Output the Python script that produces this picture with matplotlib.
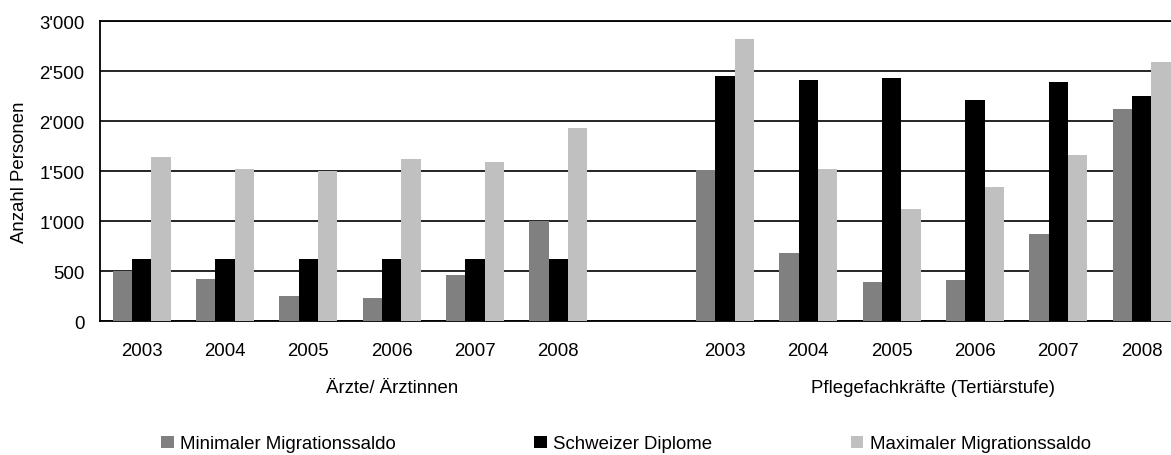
import matplotlib
matplotlib.use("Agg")
import matplotlib.pyplot as plt
from matplotlib.ticker import FuncFormatter, MultipleLocator
from matplotlib.patches import Patch

plt.rcParams['font.family'] = ['Liberation Sans', 'DejaVu Sans']
plt.rcParams['font.size'] = 13.4

# data
years = ['2003', '2004', '2005', '2006', '2007', '2008']
groups = ['Ärzte/ Ärztinnen', 'Pflegefachkräfte (Tertiärstufe)']
series = ['Minimaler Migrationssaldo', 'Schweizer Diplome', 'Maximaler Migrationssaldo']

aerzte_min = [500, 427, 250, 237, 467, 1000]
aerzte_ch = [627, 627, 627, 627, 627, 627]
aerzte_max = [1647, 1527, 1503, 1627, 1597, 1937]

pflege_min = [1510, 687, 397, 417, 877, 2127]
pflege_ch = [2457, 2417, 2437, 2217, 2397, 2257]
pflege_max = [2827, 1527, 1127, 1347, 1667, 2597]

colors = ['#808080', '#000000', '#c0c0c0']

W, H = 1171, 456
fig = plt.figure(figsize=(W / 100, H / 100), dpi=100)
# axes extends past the right edge like in the original
ax = fig.add_axes([100 / W, (H - 322.3) / H, 1083.3 / W, 300 / H])

# categories: 6 years, one empty slot, 6 years
pos_a = list(range(6))
pos_p = list(range(7, 13))
bw = 0.232
offsets = [-bw, 0, bw]

for i, (va, vp) in enumerate(zip([aerzte_min, aerzte_ch, aerzte_max],
                                 [pflege_min, pflege_ch, pflege_max])):
    ax.bar([p + offsets[i] for p in pos_a], va, width=bw, color=colors[i], zorder=3)
    ax.bar([p + offsets[i] for p in pos_p], vp, width=bw, color=colors[i], zorder=3)

ax.set_xlim(-0.5, 12.5)
ax.set_ylim(0, 3000)
ax.yaxis.set_major_locator(MultipleLocator(500))
ax.yaxis.set_major_formatter(FuncFormatter(lambda v, p: f"{int(v):,}".replace(',', "'")))
ax.yaxis.grid(True, color='black', lw=1.2, zorder=0)
ax.set_axisbelow(True)

ax.set_xticks(pos_a + pos_p)
ax.set_xticklabels(years + years)
ax.tick_params(axis='both', length=0)
ax.tick_params(axis='x', pad=15)
ax.tick_params(axis='y', pad=11)

ax.spines['right'].set_visible(False)
for s in ['left', 'bottom', 'top']:
    ax.spines[s].set_color('black')
    ax.spines[s].set_linewidth(1.3)

# group labels under the years
for x, g in zip([3, 9.5], groups):
    ax.annotate(g, xy=(x, 0), xycoords=('data', 'axes fraction'),
                xytext=(0, -47.5), textcoords='offset points',
                ha='center', va='center')

fig.text(20 / W, 1 - 172.3 / H, 'Anzahl Personen', rotation=90,
         ha='center', va='center')

handles = [Patch(facecolor=c, edgecolor='none') for c in colors]
fig.legend(handles, series, ncol=3, loc='center left',
           bbox_to_anchor=(161 / W, 1 - 445 / H), frameon=False,
           borderpad=0, borderaxespad=0, handlelength=0.68, handleheight=0.68,
           handletextpad=0.33, columnspacing=7.45)

fig.savefig('out.png', dpi=100)
